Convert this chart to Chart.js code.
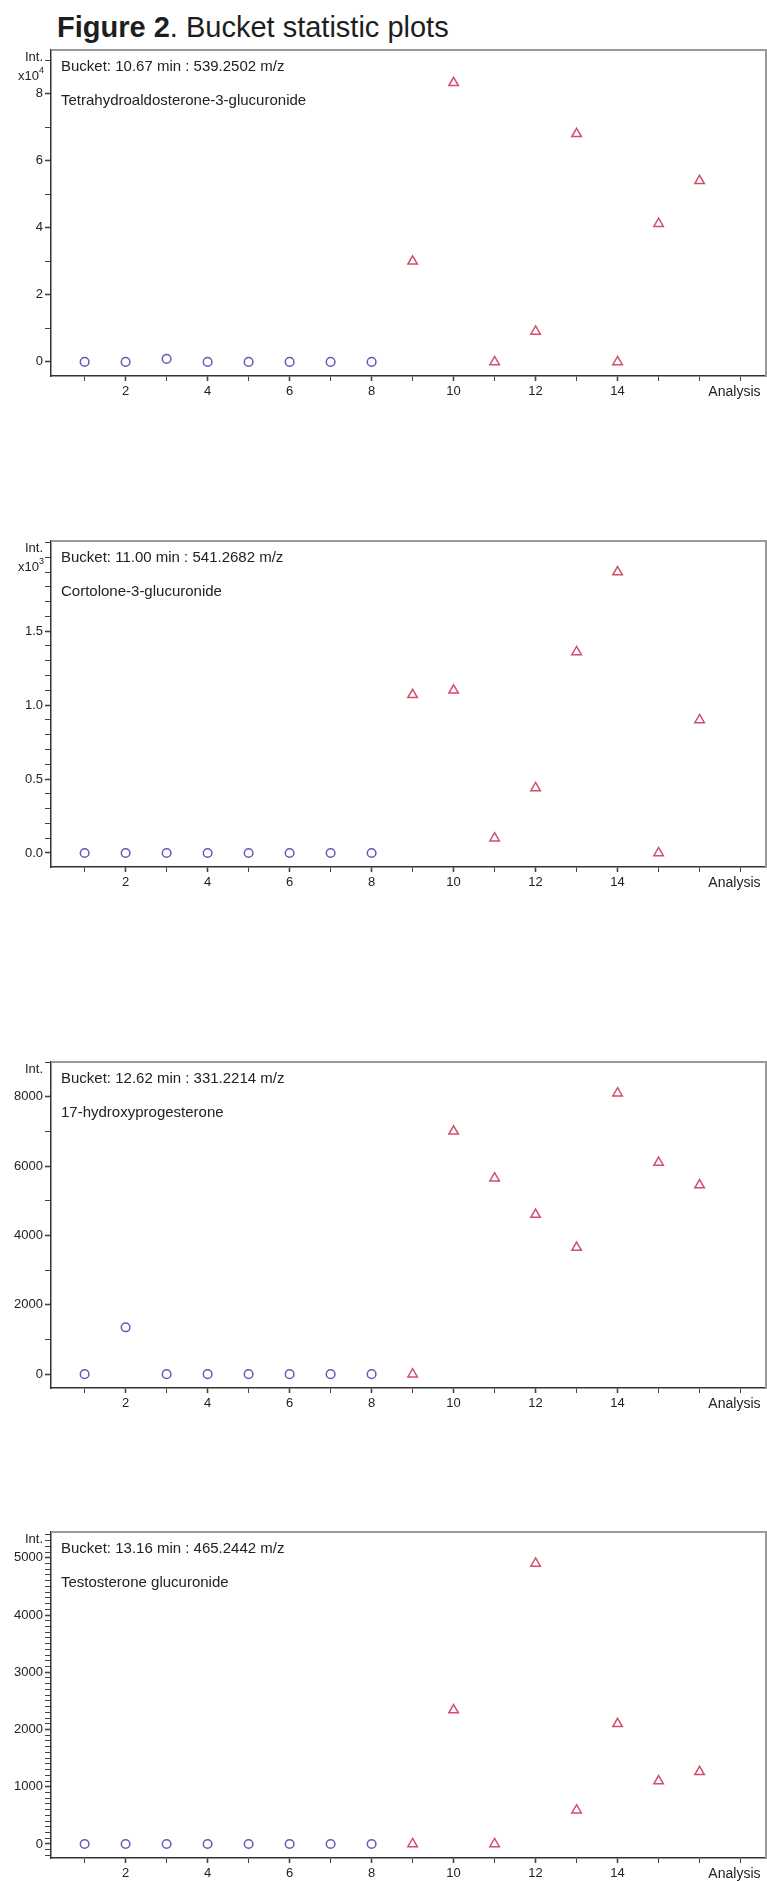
<!DOCTYPE html>
<html>
<head>
<meta charset="utf-8">
<script src="https://cdn.jsdelivr.net/npm/chart.js@4.4.1/dist/chart.umd.min.js"></script>
<style>
  body { margin: 0; background: #fff; width: 767px; height: 1881px; position: relative; overflow: hidden; font-family: 'Liberation Sans', Arial, sans-serif; }
  #title { position: absolute; left: 57px; top: 13px; font-size: 29px; line-height: 29px; color: #1e1e1e; white-space: nowrap; }
  .panel { position: absolute; left: 0; width: 767px; height: 378px; }
</style>
</head>
<body>
<div id="title"><b>Figure 2</b>. Bucket statistic plots</div>
<div class="panel" style="top:30px"><canvas id="c1"></canvas></div>
<div class="panel" style="top:521px"><canvas id="c2"></canvas></div>
<div class="panel" style="top:1042px"><canvas id="c3"></canvas></div>
<div class="panel" style="top:1512px"><canvas id="c4"></canvas></div>
<script>
// analysis numbers: group 1 (circles) and group 2 (triangles)
const circleAnalyses = [1, 2, 3, 4, 5, 6, 7, 8];
const triangleAnalyses = [9, 10, 11, 12, 13, 14, 15, 16];

// Tetrahydroaldosterone-3-glucuronide, Int. x10^4
const thaCircles = [0, 0, 0.09, 0, 0, 0, 0, 0];
const thaTriangles = [3.0, 8.32, 0, 0.91, 6.8, 0, 4.12, 5.4];

// Cortolone-3-glucuronide, Int. x10^3
const cortCircles = [0, 0, 0, 0, 0, 0, 0, 0];
const cortTriangles = [1.07, 1.10, 0.10, 0.44, 1.36, 1.90, 0, 0.90];

// 17-hydroxyprogesterone
const ohpCircles = [0, 1350, 0, 0, 0, 0, 0, 0];
const ohpTriangles = [0, 7000, 5650, 4600, 3650, 8100, 6100, 5450];

// Testosterone glucuronide
const testCircles = [0, 0, 0, 0, 0, 0, 0, 0];
const testTriangles = [0, 2340, 0, 4900, 590, 2100, 1100, 1260];

const bucketLabels = [
  'Bucket: 10.67 min : 539.2502 m/z',
  'Bucket: 11.00 min : 541.2682 m/z',
  'Bucket: 12.62 min : 331.2214 m/z',
  'Bucket: 13.16 min : 465.2442 m/z'
];
const compoundNames = [
  'Tetrahydroaldosterone-3-glucuronide',
  'Cortolone-3-glucuronide',
  '17-hydroxyprogesterone',
  'Testosterone glucuronide'
];
const intExponents = ['4', '3', null, null];
const xLabelTicks = [2, 4, 6, 8, 10, 12, 14];

const FONT = "'Liberation Sans', Arial, sans-serif";
const INK = '#222';

// tick positions from first to last by step (rounded to avoid float drift)
function tickRange(first, last, step) {
  const out = [];
  const n = Math.round((last - first) / step);
  for (let k = 0; k <= n; k++) out.push({ value: Math.round((first + k * step) * 1e6) / 1e6 });
  return out;
}

const panelText = {
  id: 'panelText',
  afterDraw(chart, args, opts) {
    const { ctx, chartArea: a } = chart;
    ctx.save();
    // grey frame top/right
    ctx.strokeStyle = '#999';
    ctx.lineWidth = 2;
    ctx.beginPath();
    ctx.moveTo(a.left, a.top);
    ctx.lineTo(a.right, a.top);
    ctx.lineTo(a.right, a.bottom);
    ctx.stroke();

    ctx.fillStyle = INK;
    ctx.textBaseline = 'middle';
    ctx.textAlign = 'left';
    ctx.font = '15px ' + FONT;
    ctx.fillText(opts.bucket, a.left + 10, a.top + 17);
    ctx.fillText(opts.name, a.left + 10, a.top + 51);

    ctx.textAlign = 'right';
    ctx.font = '13px ' + FONT;
    ctx.fillText('Int.', a.left - 8, a.top + 7);
    if (opts.exp) {
      ctx.font = '9px ' + FONT;
      ctx.fillText(opts.exp, a.left - 7, a.top + 21);
      const w = ctx.measureText(opts.exp).width;
      ctx.font = '13px ' + FONT;
      ctx.fillText('x10', a.left - 7 - w, a.top + 26);
    }
    ctx.textAlign = 'center';
    ctx.font = '14px ' + FONT;
    ctx.fillText('Analysis', chart.scales.x.getPixelForValue(16.85), a.bottom + 16);
    ctx.restore();
  }
};

function makePanel(id, i, circles, triangles, y) {
  new Chart(document.getElementById(id), {
    type: 'scatter',
    data: {
      datasets: [
        {
          data: circleAnalyses.map((x, k) => ({ x: x, y: circles[k] })),
          pointStyle: 'circle',
          pointRadius: 4.3,
          borderColor: '#5d5cb6',
          backgroundColor: 'rgba(0,0,0,0)',
          borderWidth: 1.5
        },
        {
          data: triangleAnalyses.map((x, k) => ({ x: x, y: triangles[k] })),
          pointStyle: 'triangle',
          pointRadius: 5.5,
          borderColor: '#d24f6c',
          backgroundColor: 'rgba(0,0,0,0)',
          borderWidth: 1.5
        }
      ]
    },
    options: {
      responsive: true,
      maintainAspectRatio: false,
      animation: false,
      layout: { autoPadding: false, padding: { top: 20, right: 1, left: 0, bottom: 0 } },
      plugins: {
        legend: { display: false },
        tooltip: { enabled: false },
        panelText: { bucket: bucketLabels[i], name: compoundNames[i], exp: intExponents[i] }
      },
      scales: {
        x: {
          type: 'linear',
          min: 0.18,
          max: 17.62,
          afterBuildTicks: s => { s.ticks = tickRange(1, 17, 1); },
          afterFit: s => { s.height = 32; s.paddingLeft = 0; s.paddingRight = 0; },
          border: { display: true, color: '#333', width: 1.5 },
          grid: {
            drawOnChartArea: false, tickLength: 5, tickColor: '#444',
            tickWidth: c => xLabelTicks.includes(c.tick.value) ? 1.6 : 1
          },
          ticks: {
            autoSkip: false, maxRotation: 0,
            padding: 3, color: INK, font: { family: FONT, size: 13 },
            callback: v => xLabelTicks.includes(v) ? String(v) : ''
          }
        },
        y: {
          min: y.min,
          max: y.max,
          afterBuildTicks: s => { s.ticks = tickRange(y.first, y.last, y.step); },
          afterFit: s => { s.width = 51; s.paddingTop = 0; s.paddingBottom = 0; },
          border: { display: true, color: '#333', width: 1.5 },
          grid: {
            drawOnChartArea: false, tickLength: 6, tickColor: '#444',
            tickWidth: c => y.isMajor(c.tick.value) ? 1.6 : 1
          },
          ticks: {
            autoSkip: false,
            padding: 2, color: INK, font: { family: FONT, size: 13 },
            callback: v => y.isMajor(v) ? y.fmt(v) : ''
          }
        }
      }
    },
    plugins: [panelText]
  });
}

const near = (v, m) => Math.abs(v / m - Math.round(v / m)) < 1e-6;

makePanel('c1', 0, thaCircles, thaTriangles, {
  min: -0.42, max: 9.3, first: 0, last: 9, step: 1,
  isMajor: v => near(v, 2) && v <= 8,
  fmt: v => String(Math.round(v))
});
makePanel('c2', 1, cortCircles, cortTriangles, {
  min: -0.095, max: 2.11, first: 0, last: 2.1, step: 0.1,
  isMajor: v => near(v, 0.5) && v <= 1.6,
  fmt: v => v.toFixed(1)
});
makePanel('c3', 2, ohpCircles, ohpTriangles, {
  min: -400, max: 9000, first: 0, last: 9000, step: 1000,
  isMajor: v => near(v, 2000) && v <= 8000,
  fmt: v => String(Math.round(v))
});
makePanel('c4', 3, testCircles, testTriangles, {
  min: -245, max: 5450, first: -200, last: 5400, step: 100,
  isMajor: v => near(v, 1000),
  fmt: v => String(Math.round(v))
});
</script>
</body>
</html>
